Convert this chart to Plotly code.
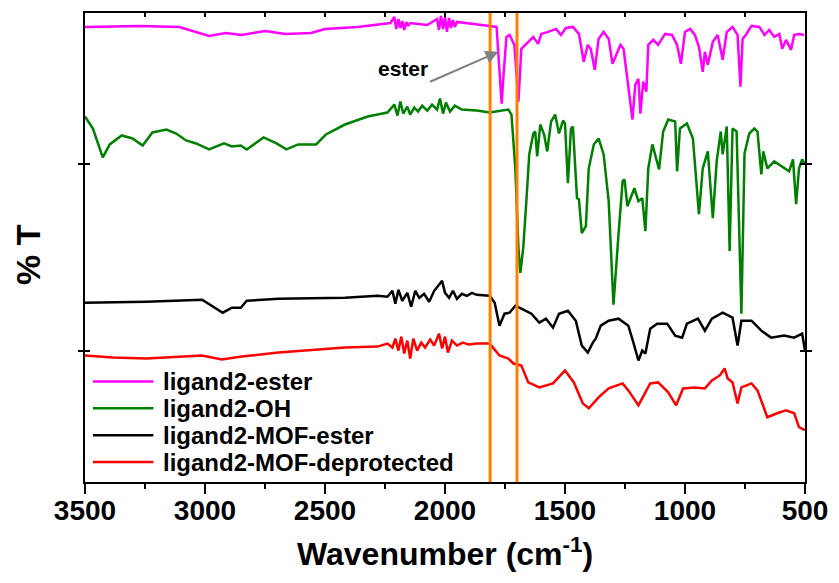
import plotly.graph_objects as go

# ---------------- data (wavenumber in cm-1, %T in offset display units) ----------------
ester_wn = [3500, 3273, 3107, 2983, 2913, 2847, 2748, 2665, 2558, 2500, 2364, 2281, 2227,
            2211, 2203, 2194, 2186, 2178, 2170, 2161, 2153, 2145, 2116, 2074, 2033,
            2025, 2017, 2008, 2000, 1992, 1983, 1975, 1967, 1959, 1950, 1909, 1868, 1814,
            1785, 1773, 1764, 1756, 1744, 1731, 1711, 1694, 1682, 1661, 1632, 1612, 1599,
            1570, 1537, 1517, 1496, 1467, 1442, 1422, 1405, 1393, 1376, 1360, 1339, 1318,
            1302, 1281, 1269, 1256, 1236, 1219, 1207, 1194, 1186, 1174, 1161, 1153, 1132,
            1112, 1083, 1054, 1033, 1017, 1000, 979, 959, 942, 926, 917, 905, 884, 864,
            843, 826, 802, 781, 769, 760, 744, 723, 690, 669, 649, 628, 607, 595, 579,
            558, 545, 525, 504]
ester_t = [457, 458, 457, 448, 451, 449, 453, 450, 451, 455, 457, 459, 461,
           467, 455, 465, 456, 463, 454, 462, 458, 461, 460, 459, 465,
           454, 468, 455, 467, 452, 466, 456, 464, 457, 462, 461, 460, 458,
           457, 415, 380, 409, 447, 449, 439, 382, 435, 440, 447, 440, 450,
           452, 455, 449, 456, 457, 450, 422, 439, 435, 414, 445, 452, 445,
           420, 432, 439, 435, 399, 364, 399, 405, 370, 402, 392, 439, 444,
           439, 450, 449, 439, 420, 452, 455, 449, 437, 412, 432, 419, 442, 449,
           424, 452, 457, 449, 397, 445, 450, 458, 457, 449, 454, 447, 450, 435, 444,
           434, 449, 450, 449]

oh_wn = [3500, 3467, 3426, 3397, 3347, 3302, 3260, 3219, 3161, 3120, 3079, 3037, 2983,
         2921, 2888, 2851, 2826, 2756, 2702, 2661, 2612, 2537, 2496, 2417, 2322, 2240,
         2211, 2198, 2186, 2174, 2157, 2145, 2128, 2112, 2095, 2074, 2054, 2033, 2021,
         2008, 1996, 1979, 1959, 1930, 1868, 1814, 1736, 1723, 1707, 1694, 1686, 1674,
         1661, 1649, 1632, 1624, 1616, 1603, 1587, 1574, 1558, 1541, 1525, 1508, 1500,
         1488, 1475, 1467, 1450, 1442, 1430, 1413, 1401, 1380, 1360, 1339, 1318, 1298,
         1277, 1260, 1252, 1240, 1227, 1211, 1194, 1178, 1165, 1153, 1136, 1124, 1108,
         1091, 1070, 1041, 1033, 1021, 992, 967, 942, 926, 905, 884, 868, 851, 843,
         826, 814, 802, 785, 765, 752, 732, 711, 698, 682, 674, 657, 628, 599, 566,
         550, 537, 525, 512, 500]
oh_t = [367, 355, 326, 339, 348, 345, 338, 351, 354, 350, 343, 340, 334,
        340, 337, 338, 334, 346, 340, 334, 339, 339, 349, 359, 367, 371,
        379, 368, 382, 370, 377, 369, 376, 372, 378, 373, 379, 374, 385,
        370, 381, 372, 378, 374, 373, 371, 374, 369, 315, 235, 210, 235,
        282, 329, 350, 352, 327, 359, 349, 332, 362, 369, 350, 363, 360,
        300, 355, 357, 285, 284, 250, 257, 315, 339, 345, 329, 282, 178,
        249, 302, 304, 277, 285, 295, 282, 285, 252, 315, 339, 327, 314,
        352, 364, 362, 312, 355, 360, 345, 269, 315, 332, 265, 322, 352, 329,
        357, 232, 355, 352, 169, 330, 350, 355, 352, 309, 332, 315, 322, 317, 312,
        324, 279, 315, 324, 319]

mof_ester_wn = [3500, 3244, 3012, 2971, 2926, 2888, 2851, 2826, 2694, 2417, 2281,
                2240, 2219, 2207, 2194, 2178, 2157, 2141, 2124, 2107, 2087, 2066, 2045,
                2025, 2012, 2000, 1983, 1967, 1950, 1930, 1909, 1888, 1868, 1814, 1793,
                1773, 1752, 1731, 1707, 1682, 1640, 1607, 1579, 1550, 1525, 1488, 1455,
                1430, 1405, 1384, 1372, 1351, 1318, 1277, 1236, 1215, 1194, 1178, 1165,
                1145, 1116, 1074, 1041, 1012, 992, 946, 917, 888, 843, 802, 781, 765,
                723, 682, 641, 587, 545, 512, 500]
mof_ester_t = [180, 181, 183, 177, 170, 175, 175, 182, 184, 185, 187,
               186, 192, 179, 193, 182, 190, 176, 192, 185, 189, 181, 192,
               198, 202, 190, 185, 192, 184, 189, 187, 190, 188, 187, 180,
               157, 169, 170, 177, 174, 169, 160, 164, 155, 169, 172, 162,
               137, 130, 140, 144, 157, 162, 164, 157, 140, 122, 132, 129,
               154, 159, 159, 147, 145, 159, 164, 152, 164, 170, 165, 137, 162,
               162, 152, 145, 147, 145, 149, 132]

mof_dep_wn = [3500, 3384, 3244, 3012, 2930, 2847, 2694, 2417, 2281,
              2240, 2219, 2207, 2194, 2182, 2170, 2157, 2145, 2132, 2116, 2099, 2083,
              2062, 2045, 2025, 2012, 2000, 1988, 1971, 1950, 1926, 1901, 1868, 1814,
              1773, 1736, 1715, 1682, 1653, 1607, 1550, 1500, 1463, 1426, 1401, 1360,
              1318, 1260, 1236, 1194, 1145, 1112, 1070, 1037, 1008, 959, 917, 888, 855,
              835, 822, 802, 781, 765, 723, 698, 657, 616, 579, 545, 525, 500]
mof_dep_t = [127, 125, 124, 127, 123, 126, 130, 135, 136,
             139, 135, 144, 132, 146, 129, 142, 124, 144, 132, 140, 135,
             143, 137, 149, 134, 146, 130, 142, 137, 140, 138, 139, 139,
             127, 124, 119, 117, 100, 95, 99, 112, 100, 79, 74, 85,
             94, 99, 92, 77, 99, 100, 90, 77, 94, 95, 94, 102, 107,
             114, 104, 100, 79, 95, 99, 92, 65, 69, 72, 69, 55, 52]

series_names = ["ligand2-ester", "ligand2-OH", "ligand2-MOF-ester", "ligand2-MOF-deprotected"]
series_colors = ["#FF00FF", "#008000", "#000000", "#FF0000"]
series_x = [ester_wn, oh_wn, mof_ester_wn, mof_dep_wn]
series_y = [ester_t, oh_t, mof_ester_t, mof_dep_t]

marker_lines = [1812, 1700]          # vertical guide lines (cm-1)
x_ticks = [3500, 3000, 2500, 2000, 1500, 1000, 500]
y_ticks = [132, 319]

FONT = "Arial, Liberation Sans, Helvetica, sans-serif"

fig = go.Figure()
for name, col, xs, ys in zip(series_names, series_colors, series_x, series_y):
    fig.add_trace(go.Scatter(x=xs, y=ys, mode="lines", name=name,
                             line=dict(color=col, width=2.5), showlegend=False))

for wn in marker_lines:
    fig.add_shape(type="line", xref="x", yref="paper", x0=wn, x1=wn, y0=0, y1=1,
                  line=dict(color="#FF8000", width=3), layer="above")

# manual legend (bottom-left, inside plot)
leg_y = [0.2144, 0.1571, 0.0998, 0.0425]
for name, col, yy in zip(series_names, series_colors, leg_y):
    fig.add_shape(type="line", xref="paper", yref="paper", x0=0.011, x1=0.095,
                  y0=yy, y1=yy, line=dict(color=col, width=2.5))
    fig.add_annotation(xref="paper", yref="paper", x=0.106, y=yy, text=name,
                       showarrow=False, xanchor="left", yanchor="middle",
                       font=dict(family=FONT, size=24, color="black", weight="bold"))

# "ester" label with arrow pointing to the ester C=O band
fig.add_annotation(x=1777, y=432, xref="x", yref="y", ax=2062, ay=402,
                   axref="x", ayref="y", text="ester", showarrow=True,
                   xanchor="right", yanchor="bottom",
                   arrowhead=2, arrowsize=1.3, arrowwidth=2, arrowcolor="#808080",
                   font=dict(family=FONT, size=21, color="black", weight="bold"))

# axis titles
fig.add_annotation(xref="paper", yref="paper", x=0.5, y=0, yshift=-70,
                   text="Wavenumber (cm<sup>-1</sup>)", showarrow=False,
                   xanchor="center", yanchor="middle",
                   font=dict(family=FONT, size=32, color="black", weight="bold"))
fig.add_annotation(xref="paper", yref="paper", x=0, xshift=-57, y=0.484,
                   text="% T", textangle=-90, showarrow=False,
                   xanchor="center", yanchor="middle",
                   font=dict(family=FONT, size=34, color="black", weight="bold"))

fig.update_layout(
    width=839, height=583,
    margin=dict(l=85, r=28, t=11, b=101),
    paper_bgcolor="white", plot_bgcolor="white",
    xaxis=dict(range=[3500, 500], tickvals=x_ticks, ticks="outside", ticklen=10,
               tickwidth=2, tickcolor="black", showline=True, linewidth=2,
               linecolor="black", mirror=True, showgrid=False, zeroline=False,
               ticklabelstandoff=-8, ticklabeloverflow="allow",
               tickfont=dict(family=FONT, size=28, color="black", weight="bold"),
               minor=dict(dtick=250, tick0=500, ticks="outside", ticklen=5,
                          tickwidth=2, tickcolor="black", showgrid=False)),
    xaxis2=dict(range=[3500, 500], overlaying="x", side="top", tickmode="linear",
                tick0=500, dtick=250, ticks="inside", ticklen=4, tickwidth=1.5,
                tickcolor="black", showticklabels=False, showgrid=False,
                zeroline=False, showline=False),
    yaxis=dict(range=[0, 471], tickvals=y_ticks, showticklabels=False, ticks="inside",
               ticklen=5, tickwidth=2, tickcolor="black", showline=True,
               linewidth=2, linecolor="black", mirror="allticks", showgrid=False,
               zeroline=False),
)
# invisible trace to activate the top axis
fig.add_trace(go.Scatter(x=[3500, 500], y=[0, 0], xaxis="x2", mode="lines",
                         line=dict(width=0), hoverinfo="skip", showlegend=False))

fig.write_html("out.html", config={"displayModeBar": False},
               post_script="document.body.style.margin='0';")
